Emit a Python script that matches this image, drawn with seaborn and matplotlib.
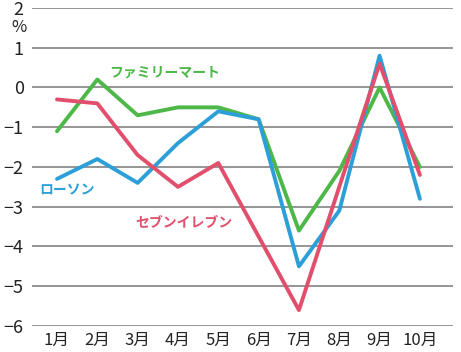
import matplotlib
matplotlib.use("Agg")
import matplotlib.pyplot as plt
import seaborn as sns
import pandas as pd

months = ["1月", "2月", "3月", "4月", "5月", "6月", "7月", "8月", "9月", "10月"]
familymart = [-1.1, 0.2, -0.7, -0.5, -0.5, -0.8, -3.6, -2.1, 0.0, -2.0]
lawson = [-2.3, -1.8, -2.4, -1.4, -0.6, -0.8, -4.5, -3.1, 0.8, -2.8]
seven = [-0.3, -0.4, -1.7, -2.5, -1.9, -3.75, -5.6, -2.5, 0.6, -2.2]
series_names = ["ファミリーマート", "ローソン", "セブンイレブン"]
colors = ["#4db848", "#2c9fd9", "#e14f6c"]
yticks = [2, 1, 0, -1, -2, -3, -4, -5, -6]

sns.set_theme(style="white")
plt.rcParams["font.family"] = ["Noto Sans CJK JP", "DejaVu Sans"]
tick_family = ["Liberation Sans Narrow", "Noto Sans CJK JP", "DejaVu Sans"]

rows = []
for name, vals in zip(series_names, [familymart, lawson, seven]):
    for i, v in enumerate(vals):
        rows.append({"x": i, "month": months[i], "value": v, "series": name})
df = pd.DataFrame(rows)

fig = plt.figure(figsize=(4.61, 3.52), dpi=100)
ax = fig.add_axes([0.0694, 0.0739, 0.9132, 0.9034])

for y in yticks:
    ax.axhline(y, color="#8c8c8c", lw=1.3, zorder=0)

sns.lineplot(data=df, x="x", y="value", hue="series", hue_order=series_names,
             palette=colors, linewidth=2.8, legend=False, ax=ax, zorder=3)

ax.set_xlim(-0.62, 9.82)
ax.set_ylim(-6, 2)
ax.set_xticks(range(len(months)))
ax.set_xticklabels(months, family=tick_family, fontsize=12)
ax.set_yticks(yticks)
ax.set_yticklabels([str(t).replace("-", "−") if t != 0 else "0" for t in yticks],
                   family=tick_family, fontsize=13)
ax.set_xlabel("")
ax.set_ylabel("")
for s in ax.spines.values():
    s.set_visible(False)
ax.tick_params(axis="both", length=0, colors="#222222")
ax.tick_params(axis="y", pad=6)
ax.tick_params(axis="x", pad=4)

ax.text(-0.95, 1.5, "%", fontsize=12, color="#222222", ha="center", va="center",
        family=tick_family, transform=ax.transData, clip_on=False)

ax.text(1.3, 0.38, "ファミリーマート", color=colors[0], fontsize=10, fontweight="bold", ha="left", va="center")
ax.text(-0.45, -2.6, "ローソン", color=colors[1], fontsize=10, fontweight="bold", ha="left", va="center")
ax.text(1.95, -3.4, "セブンイレブン", color=colors[2], fontsize=10, fontweight="bold", ha="left", va="center")

fig.savefig("out.png", dpi=100)
